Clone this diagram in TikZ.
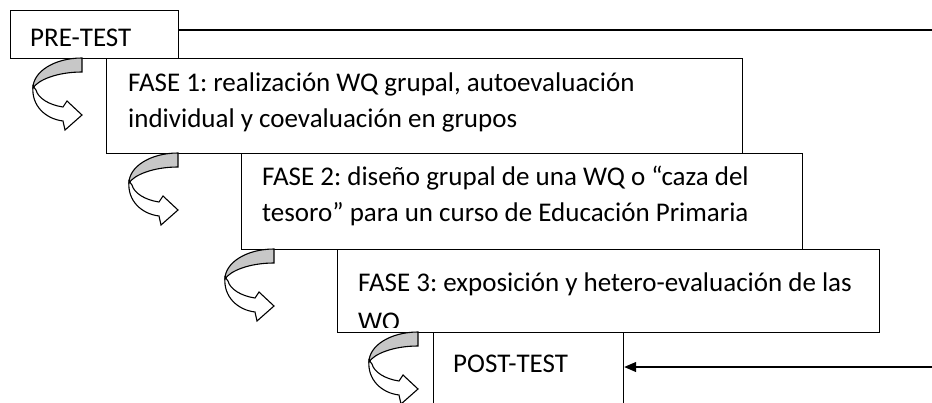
\documentclass[tikz,border=0pt]{standalone}
\usepackage{fontspec}
\setmainfont{Carlito}
\frenchspacing
\usetikzlibrary{arrows.meta}
\tikzset{
  box/.style={draw, line width=1.2pt, inner sep=0pt, anchor=north west},
  txt/.style={inner sep=0pt, anchor=base west, font=\fontsize{27}{36}\selectfont},
  curvarrow/.pic={
    \draw[line width=1.1pt, fill=white, line join=miter]
      (-49,28) .. controls (-51,48) and (-36,61) .. (-19,63) -- (-17,72) -- (0,57)
      -- (-15,43) -- (-19,49) .. controls (-33,47) and (-44,40) .. (-46,32) -- cycle;
    \draw[line width=1.1pt, fill=black!22]
      (0,0) .. controls (-28,0) and (-49,14) .. (-49,30)
      .. controls (-44,22) and (-25,14) .. (0,14) -- cycle;
  }
}
\begin{document}
\begin{tikzpicture}[x=1pt, y=-1pt]
\clip (0,0) rectangle (932,402);
\fill[white] (0,0) rectangle (932,402);
% boxes
\node[box, minimum width=168, minimum height=48] (pre) at (10,10) {};
\node[box, minimum width=636, minimum height=95] (f1) at (106,58) {};
\node[box, minimum width=561, minimum height=96] (f2) at (241,153) {};
\node[box, minimum width=542, minimum height=83] (f3) at (337,249) {};
\node[box, minimum width=190, minimum height=90] (post) at (433,332) {};
% texts
\node[txt] (tpre) at (30,46) {PRE-TEST};
\node[txt] (t1a) at (128,91) {FASE 1: realización WQ grupal, autoevaluación};
\node[txt] (t1b) at (128,127) {individual y coevaluación en grupos};
\node[txt] (t2a) at (262,185) {FASE 2: diseño grupal de una WQ o “caza del};
\node[txt] (t2b) at (262,221) {tesoro” para un curso de Educación Primaria};
\node[txt] (t3a) at (358,291) {FASE 3: exposición y hetero-evaluación de las};
\begin{scope}
  \clip (337,249) rectangle (879,327);
  \node[txt] (t3b) at (358,330) {WQ};
\end{scope}
\node[txt] (tpost) at (453,372) {POST-TEST};
% connectors
\coordinate (r1) at (932,30);
\coordinate (r2) at (932,367);
\draw[line width=1.2pt] (r1 -| pre.east) -- (r1);
\draw[line width=1.2pt, -{Triangle[length=12pt, width=10pt]}] (r2) -- (r2 -| post.east);
% curved arrows
\pic at (82,58) {curvarrow};
\pic at (178,153) {curvarrow};
\pic at (274,249) {curvarrow};
\pic at (418,332) {curvarrow};
\end{tikzpicture}
\end{document}
